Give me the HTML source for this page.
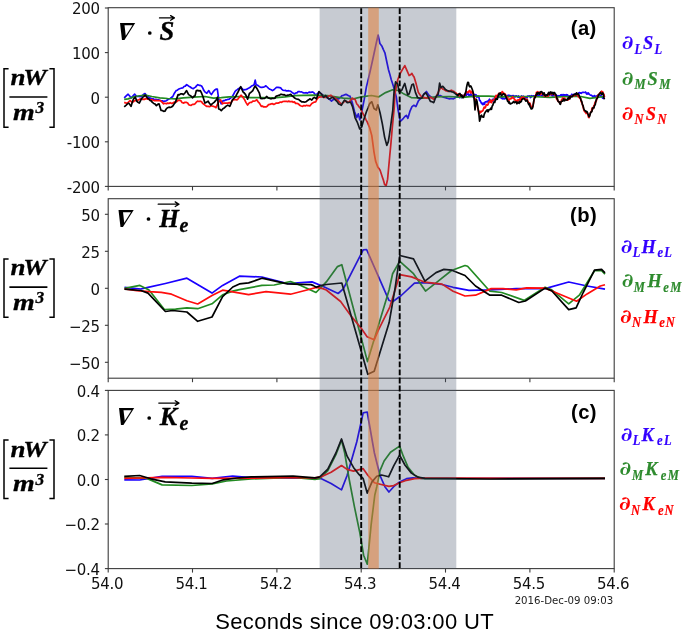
<!DOCTYPE html>
<html lang="en"><head><meta charset="utf-8"><title>Energy flux divergence</title>
<style>
html,body{margin:0;padding:0;background:#fff;}
body{width:685px;height:632px;overflow:hidden;}
svg{display:block;will-change:transform;transform:translateZ(0);}
.tk{font-family:"DejaVu Sans","Liberation Sans",sans-serif;font-size:15px;letter-spacing:-0.3px;fill:#111;}
.sm{font-family:"DejaVu Sans","Liberation Sans",sans-serif;font-size:10.2px;fill:#222;}
.xl{font-family:"Liberation Sans",sans-serif;font-size:22px;letter-spacing:0.34px;fill:#000;}
.pl{font-family:"Liberation Sans",sans-serif;font-weight:bold;font-size:20.2px;letter-spacing:0.4px;fill:#000;}
.mi{font-family:"Liberation Serif","DejaVu Serif",serif;font-weight:bold;font-style:italic;}
.nb2{font-family:"DejaVu Serif","DejaVu Sans",serif;font-weight:bold;}
.pd{font-family:"DejaVu Serif","Liberation Serif",serif;font-weight:bold;font-style:italic;}
.ln{fill:none;stroke-width:1.7;stroke-linejoin:round;stroke-linecap:butt;}
</style></head><body>
<svg width="685" height="632" viewBox="0 0 685 632">
<rect width="685" height="632" fill="#fff"/>

<g id="panel-a">
<clipPath id="cpa"><rect x="108.2" y="7.7" width="506.00000000000006" height="178.70000000000002"/></clipPath>
<g clip-path="url(#cpa)">
<polyline class="ln" stroke="#1a00ff" points="124.2,97.8 126.2,95.9 128.1,94.2 130.1,96.5 131.4,97.8 133.1,95.8 134.7,94.2 136.7,96.5 137.8,96.5 139.0,96.4 140.2,96.6 141.3,96.5 142.5,95.6 143.8,94.2 145.0,93.6 147.2,96.5 148.3,96.7 149.5,98.0 150.7,98.1 151.8,98.9 153.1,98.8 154.4,99.7 155.8,99.4 157.1,99.9 158.4,99.8 159.7,100.2 161.0,100.8 162.3,100.8 163.6,101.5 164.9,101.1 166.3,100.7 167.6,99.8 168.9,99.0 170.2,98.4 171.5,97.5 172.8,96.5 174.4,93.2 176.1,90.6 177.2,90.2 178.3,89.4 179.4,88.7 181.1,88.2 182.7,88.0 184.0,86.5 185.3,86.1 186.6,84.7 187.7,85.3 188.8,86.2 189.9,86.7 191.6,88.0 193.2,88.7 194.3,87.9 195.5,87.1 196.7,85.6 197.8,84.7 199.1,85.3 200.4,85.4 201.6,86.0 202.7,87.9 203.8,90.3 204.9,91.9 206.8,93.2 208.8,90.6 210.1,92.9 211.4,94.6 213.1,91.9 214.7,90.0 216.0,89.2 217.3,89.0 218.7,99.2 220.0,101.2 221.3,103.8 223.2,100.5 224.4,100.7 225.6,99.9 226.8,99.8 228.0,99.3 229.2,99.2 230.8,97.9 232.4,96.5 233.8,93.8 235.1,91.3 236.2,90.3 237.3,89.6 238.4,88.7 239.7,88.1 241.0,87.3 242.3,89.0 243.6,90.0 244.9,89.7 246.3,89.5 247.6,88.7 248.9,88.1 250.2,87.3 251.5,86.0 252.8,85.5 254.1,84.7 255.2,80.1 256.1,84.7 257.8,85.4 259.4,86.7 260.7,87.3 262.0,87.3 263.3,87.2 264.6,86.7 265.9,85.8 267.2,87.0 268.6,88.3 269.9,89.3 271.2,89.7 272.5,90.6 273.8,89.8 275.2,88.5 276.5,87.3 278.1,87.3 279.6,87.6 280.8,87.9 281.9,89.4 283.1,90.2 284.2,90.5 285.3,90.3 286.4,91.0 287.5,90.8 288.6,90.7 289.7,91.0 290.8,91.3 292.1,92.4 293.4,93.4 294.7,93.9 295.9,92.9 297.0,92.8 298.1,91.7 299.3,91.5 300.5,92.0 301.7,91.9 302.8,92.6 304.0,93.0 305.2,92.8 306.3,92.7 307.5,93.1 308.6,92.4 309.7,92.1 310.8,92.5 312.0,91.9 313.1,92.2 314.4,93.4 315.7,95.2 316.8,94.1 317.9,93.3 319.0,92.2 320.1,92.9 321.2,93.7 322.3,94.8 323.6,95.7 324.9,96.0 326.2,96.8 327.5,98.1 328.9,99.1 330.2,99.9 331.5,101.0 332.8,100.0 334.1,99.1 335.4,98.1 336.5,98.4 337.6,98.6 338.7,98.8 339.8,97.8 340.9,96.8 342.0,95.7 343.3,95.5 344.6,94.8 345.9,94.4 347.2,94.9 348.6,95.7 349.9,96.1 351.2,99.6 352.5,103.4 354.5,111.5 355.6,114.4 356.8,117.5 358.3,113.8 359.8,119.8 361.3,114.5 362.1,110.0 364.2,99.7 366.4,86.9 368.5,78.4 369.9,72.3 371.4,65.6 372.8,59.2 374.2,52.8 376.3,42.8 378.1,35.0 379.9,43.5 382.0,46.3 383.4,49.6 384.9,52.8 387.0,62.7 388.5,69.8 389.9,74.5 391.3,79.8 392.7,84.0 394.1,88.4 396.3,96.9 398.1,110.0 400.3,121.3 401.9,119.8 403.4,118.3 404.9,116.5 406.4,115.3 407.9,118.3 409.0,114.6 410.1,110.8 412.0,106.6 413.9,105.3 415.9,106.6 417.2,103.7 418.5,100.7 419.9,99.1 421.2,98.1 422.3,96.6 423.4,95.0 424.5,93.5 426.4,91.5 427.8,93.6 429.1,95.5 430.7,96.7 432.3,98.1 433.6,97.8 435.0,97.4 436.3,96.8 437.6,96.1 438.9,95.7 440.2,95.5 441.5,96.2 442.9,97.0 444.2,97.4 445.5,97.6 446.8,98.1 448.1,98.5 449.4,98.8 450.7,98.7 452.1,98.7 453.4,98.8 454.7,98.0 456.0,97.0 457.3,96.8 457.9,97.1 458.5,96.1 459.1,96.4 459.7,97.7 460.2,95.2 460.8,97.0 461.4,97.6 462.0,96.2 462.6,96.8 463.2,95.6 463.8,97.3 464.3,95.1 464.9,94.7 465.5,95.2 466.1,95.9 466.6,93.6 467.2,94.1 467.8,94.4 468.4,94.0 469.0,95.8 469.6,94.6 470.2,96.1 470.7,93.9 471.3,94.6 471.9,95.8 472.5,96.7 473.1,95.5 473.7,95.4 474.2,94.7 474.8,94.4 475.4,95.9 476.0,94.8 476.6,97.0 477.1,97.2 477.7,96.1 478.4,96.2 479.0,97.6 479.6,100.6 480.3,100.7 480.9,102.2 481.6,103.7 482.2,103.2 482.9,104.7 483.4,103.0 484.0,103.1 484.5,104.3 485.1,102.1 485.6,101.9 486.2,102.0 486.8,101.5 487.3,101.4 487.9,101.1 488.4,102.7 489.0,99.9 489.5,99.2 490.1,100.7 490.7,101.9 491.2,101.4 491.8,101.5 492.4,99.4 493.0,100.9 493.5,100.5 494.1,98.8 494.7,97.7 495.3,99.4 495.9,99.5 496.5,98.8 497.1,98.2 497.6,97.2 498.2,97.3 498.8,96.8 499.4,96.1 500.0,97.4 500.6,97.7 501.2,97.2 501.8,98.4 502.3,97.0 502.9,98.9 503.5,98.6 504.1,98.3 504.7,98.8 505.2,98.4 505.8,98.1 506.4,97.1 507.0,95.6 507.6,96.8 508.1,95.3 508.7,95.6 509.3,95.3 509.9,96.1 510.5,95.8 511.0,95.7 511.6,96.8 512.2,96.2 512.8,95.7 513.4,95.6 514.0,96.9 514.6,96.2 515.1,96.9 515.7,96.1 516.3,95.8 516.9,96.5 517.5,96.6 518.0,97.2 518.6,96.0 519.2,97.3 519.7,97.6 520.3,97.4 520.9,97.5 521.5,96.0 522.0,97.3 522.6,97.8 523.2,96.2 523.7,96.7 524.3,96.8 524.9,97.3 525.4,97.2 526.0,97.4 526.5,97.3 527.1,97.8 527.6,96.1 528.2,96.1 528.8,96.2 529.3,96.1 529.9,95.9 530.4,97.6 531.0,97.3 531.5,95.7 532.0,96.4 532.6,96.0 533.1,95.9 533.7,95.8 534.2,96.3 534.8,96.1 535.4,95.6 535.9,95.2 536.5,95.3 537.0,95.6 537.6,94.8 538.1,95.6 538.7,95.9 539.2,95.2 539.8,94.6 540.3,94.7 540.9,95.1 541.4,95.5 542.0,95.8 542.5,95.0 543.1,95.8 543.6,95.4 544.2,95.0 544.7,94.8 545.3,95.0 545.8,95.4 546.4,94.8 546.9,95.3 547.5,94.8 548.0,94.3 548.6,94.8 549.1,95.1 549.7,94.7 550.3,93.9 550.8,94.7 551.4,94.7 551.9,95.7 552.5,95.9 553.0,94.8 553.6,95.9 554.1,95.8 554.7,94.8 555.2,95.2 555.8,94.6 556.3,96.0 556.9,95.8 557.4,96.3 558.0,95.6 558.6,96.2 559.1,95.9 559.7,96.1 560.2,95.7 560.8,94.8 561.3,95.8 561.9,94.6 562.4,94.9 563.0,96.1 563.6,94.7 564.1,94.8 564.7,94.8 565.2,96.4 565.8,95.0 566.3,94.6 566.9,96.3 567.4,94.8 568.0,95.6 568.6,96.2 569.1,95.8 569.7,96.1 570.2,96.2 570.8,95.4 571.4,95.8 571.9,94.2 572.5,95.6 573.1,95.0 573.6,95.3 574.2,94.1 574.7,95.3 575.3,94.7 575.8,95.4 576.4,93.4 576.9,93.8 577.5,94.1 578.0,94.4 578.6,93.0 579.1,92.7 579.7,92.7 580.2,93.2 580.8,92.8 581.4,93.3 582.0,92.5 582.6,92.4 583.2,92.4 583.8,92.3 584.4,92.5 585.0,92.5 585.5,92.0 586.1,93.0 586.7,94.1 587.3,93.1 587.9,94.0 588.4,93.0 589.0,93.8 589.6,94.5 590.1,95.0 590.7,95.2 591.2,95.2 591.8,95.5 592.4,96.1 592.9,97.0 593.5,96.5 594.1,95.7 594.7,95.5 595.2,96.8 595.8,97.0 596.4,96.1 597.0,95.9 597.6,96.4 598.2,95.2 598.7,95.3 599.3,95.1 599.9,95.6 600.5,96.1 601.0,95.9 601.6,96.1 602.2,97.3 602.8,98.2 603.4,97.2 603.9,98.4 604.5,98.3"/>
<polyline class="ln" stroke="#228b22" points="124.2,99.4 128.1,98.9 134.7,96.5 145.2,95.0 151.8,96.5 159.7,97.8 167.6,98.5 175.4,98.9 183.3,97.8 193.8,97.2 205.0,96.5 213.4,98.1 221.3,97.6 229.2,96.8 239.7,96.5 250.2,97.6 260.7,97.6 273.8,97.8 285.0,96.8 294.7,95.7 313.1,95.2 327.6,95.7 343.3,98.1 353.8,98.8 361.4,96.9 371.4,95.5 378.5,96.9 385.6,92.6 392.7,89.8 398.4,90.5 404.1,94.1 411.2,97.6 423.1,98.1 436.3,96.8 449.4,96.5 462.6,97.4 475.7,96.1 488.8,96.1 500.0,96.8 513.2,96.5 531.5,96.5 549.7,97.4 568.0,96.5 580.8,96.5 589.9,98.3 597.2,97.4 604.5,96.5"/>
<polyline class="ln" stroke="#ff0d0d" points="124.2,102.4 125.5,102.9 126.8,103.1 128.4,102.1 130.1,100.5 132.1,102.4 133.4,101.8 134.7,100.5 135.8,100.7 137.0,100.2 138.2,100.1 139.3,99.4 140.9,98.9 142.6,99.4 143.7,99.1 144.8,99.3 145.9,98.5 147.6,99.1 149.2,99.4 150.5,100.2 151.8,99.6 153.1,100.3 154.4,100.7 155.7,100.4 157.1,100.6 158.4,100.6 159.7,100.5 161.0,101.1 162.3,102.4 163.6,103.8 164.9,103.3 166.3,103.8 167.6,103.1 168.9,103.4 170.2,102.7 171.5,103.4 172.8,103.1 174.1,102.2 175.5,102.2 176.8,101.5 178.1,100.4 179.4,100.2 180.7,100.6 182.0,102.5 183.3,103.1 184.9,102.4 186.6,102.4 187.7,103.0 188.8,104.7 189.9,105.1 191.2,105.3 192.5,104.4 193.8,104.4 195.1,103.8 196.3,102.2 197.6,101.1 198.9,101.5 200.3,101.2 201.6,101.8 202.7,103.4 203.8,104.2 204.9,105.1 206.5,106.3 208.1,106.4 209.4,106.7 210.8,105.9 212.1,106.0 213.4,106.4 214.7,106.8 216.0,107.7 218.0,103.1 219.3,101.1 220.6,99.8 222.6,103.8 223.9,103.1 225.2,103.1 226.5,103.1 227.8,103.2 229.2,102.6 230.5,103.1 231.8,101.6 233.1,99.8 234.4,99.6 235.7,99.6 237.0,99.8 238.3,98.6 239.7,96.7 241.0,95.2 242.1,96.3 243.2,97.8 244.3,99.2 245.9,102.4 247.6,105.1 248.9,103.3 250.2,102.4 251.5,102.5 252.8,101.0 254.1,101.1 255.4,100.7 256.8,99.8 258.1,101.8 259.4,103.1 261.3,106.4 262.4,106.0 263.6,107.0 264.8,106.7 265.9,107.0 267.2,106.2 268.6,104.7 269.9,104.4 271.2,103.8 272.5,103.7 273.8,104.5 275.1,103.8 276.4,103.0 277.7,103.2 279.0,102.9 280.3,102.0 281.6,102.3 282.9,101.5 284.2,101.4 285.5,101.4 286.6,101.4 287.7,101.7 288.8,101.0 289.9,101.7 291.0,101.7 292.1,101.4 293.2,102.3 294.4,101.9 295.6,103.4 296.7,103.4 297.9,103.6 299.0,104.5 300.1,105.5 301.3,106.0 302.6,106.3 303.9,105.5 305.2,105.9 306.5,105.3 307.6,105.6 308.7,105.6 309.8,106.0 311.8,103.4 313.1,102.7 314.4,102.1 315.7,102.0 317.0,99.2 318.4,97.4 320.0,96.9 321.6,96.8 323.0,97.2 324.3,97.4 325.4,97.5 326.5,96.8 327.6,96.8 329.2,95.7 330.8,95.2 331.9,96.3 333.0,96.7 334.1,97.4 335.4,98.4 336.8,99.4 338.1,100.7 339.7,102.4 341.3,104.0 342.4,103.4 343.5,102.2 344.6,101.4 345.8,101.5 346.9,101.4 348.1,102.1 349.2,102.0 350.3,100.4 351.4,99.4 352.5,98.1 353.8,99.0 355.1,99.4 356.8,104.0 358.0,105.2 359.3,107.2 360.5,108.5 361.8,111.3 363.0,113.6 364.3,116.0 365.8,119.3 367.3,122.1 369.5,127.3 370.6,131.2 371.8,135.6 374.0,152.1 375.6,161.1 377.8,167.1 379.0,168.6 380.1,170.2 382.3,176.9 383.5,180.4 384.6,184.4 386.1,185.9 387.6,179.2 389.8,155.1 391.0,142.6 392.1,129.6 394.3,107.0 394.9,94.1 396.3,86.8 397.7,79.8 399.1,76.2 400.6,72.7 402.7,69.1 404.8,65.6 407.0,70.6 409.1,75.5 410.5,74.8 411.9,73.4 413.0,75.4 414.1,77.0 416.2,84.1 418.4,92.6 420.5,95.5 421.8,96.8 423.1,97.4 424.4,97.6 425.8,97.9 427.1,98.1 428.4,98.0 429.7,97.6 431.0,97.4 432.4,98.3 433.7,99.4 435.0,98.0 436.3,96.8 437.6,93.6 438.9,90.9 440.9,87.6 442.0,88.2 443.1,89.3 444.2,89.6 445.5,90.6 446.8,91.0 448.1,91.5 449.8,90.8 451.4,90.2 452.5,90.8 453.6,91.2 454.7,92.2 455.8,92.7 456.9,94.6 458.0,94.2 458.6,95.7 459.3,93.9 459.9,95.6 460.6,95.7 461.2,94.8 461.9,95.9 462.5,96.1 463.2,96.8 463.9,96.1 464.5,94.6 465.2,94.9 465.9,92.3 466.5,92.2 467.1,91.8 467.8,92.6 468.5,92.0 469.1,90.9 469.8,90.3 470.5,92.9 471.1,91.9 471.8,91.5 472.4,93.5 473.1,92.9 473.8,96.6 474.4,98.1 475.0,98.5 475.7,101.4 476.4,101.9 477.0,103.4 477.7,107.7 478.3,110.1 479.0,112.6 479.6,113.4 480.3,111.3 481.0,112.1 481.6,111.2 482.3,111.2 482.9,110.7 483.6,108.6 484.2,107.1 484.9,108.0 485.6,107.1 486.2,104.7 486.9,104.7 487.5,105.2 488.1,104.4 488.8,102.0 489.4,101.9 489.9,101.7 490.5,100.1 491.0,102.4 491.6,102.6 492.1,100.7 492.8,100.0 493.4,100.1 494.1,99.6 494.7,98.9 495.4,97.4 496.0,95.4 496.7,97.0 497.3,95.5 498.0,95.1 498.6,93.7 499.2,93.3 499.8,93.9 500.3,94.2 500.9,93.7 501.5,93.8 502.1,91.6 502.6,91.9 503.2,92.8 503.9,93.3 504.5,94.6 505.2,94.0 505.9,95.5 506.5,97.1 507.0,98.1 507.6,97.4 508.1,99.7 508.7,100.9 509.3,99.7 509.8,98.8 510.4,98.7 511.0,98.9 511.5,98.1 512.1,97.8 512.6,97.0 513.2,98.0 513.8,98.5 514.4,98.9 515.0,100.2 515.7,100.8 516.3,100.4 516.9,101.8 517.4,102.6 518.0,99.6 518.5,100.4 519.1,99.7 519.6,99.7 520.2,98.5 520.8,100.3 521.3,98.5 521.9,97.2 522.4,98.2 523.0,98.7 523.5,97.2 524.1,98.7 524.6,98.2 525.2,99.0 525.8,100.2 526.3,99.9 526.9,99.1 527.5,99.9 528.1,102.1 528.8,102.7 529.4,102.9 530.0,103.3 530.6,105.4 531.2,106.4 531.8,106.9 532.4,107.4 533.0,105.7 533.6,102.7 534.2,98.2 534.8,97.4 535.3,95.6 535.9,96.1 536.4,92.4 537.0,92.8 537.6,91.7 538.2,93.2 538.8,93.5 539.4,92.2 540.0,93.7 540.6,94.6 541.2,93.2 541.8,93.5 542.4,93.8 543.0,93.2 543.5,93.6 544.1,95.9 544.7,94.3 545.3,96.3 545.9,96.4 546.4,95.7 547.0,95.6 547.6,94.4 548.2,96.1 548.9,94.2 549.5,93.5 550.1,92.8 550.7,92.9 551.3,94.6 551.8,93.4 552.4,93.0 553.0,93.8 553.5,93.0 554.1,94.7 554.6,94.4 555.2,94.8 555.8,95.4 556.3,98.2 556.9,99.6 557.4,98.4 558.0,101.1 558.6,101.8 559.2,101.6 559.8,102.8 560.4,103.3 561.0,102.1 561.6,99.7 562.2,99.0 562.8,97.9 563.4,98.2 564.0,100.0 564.6,98.2 565.2,99.5 565.9,99.4 566.5,100.2 567.1,100.1 567.7,100.0 568.2,99.9 568.8,97.6 569.4,99.1 569.9,97.3 570.5,97.5 571.0,96.5 571.6,96.5 572.2,95.6 572.8,96.0 573.5,95.5 574.1,94.9 574.7,95.8 575.3,94.8 575.9,95.2 576.5,93.7 577.1,94.5 577.7,95.3 578.3,96.8 578.9,95.7 579.5,98.1 580.0,98.4 580.6,98.1 581.1,101.7 581.7,102.1 582.4,104.2 583.0,106.9 583.7,109.5 584.4,111.2 585.0,112.0 585.5,111.9 586.1,113.5 586.6,112.3 587.2,113.0 587.8,114.2 588.4,117.1 589.0,117.6 589.6,114.8 590.2,113.3 590.8,112.0 591.4,111.8 592.0,108.2 592.6,109.3 593.3,107.7 593.9,105.6 594.5,104.6 595.2,102.1 595.9,101.8 596.5,100.4 597.2,97.3 597.9,95.1 598.5,95.0 599.2,94.1 599.9,92.8 600.5,92.6 601.0,91.9 601.6,91.2 602.1,92.3 602.7,91.8 603.3,94.5 603.9,94.1 604.5,97.2"/>
<polyline class="ln" stroke="#000" points="124.2,106.8 126.2,105.1 127.5,103.9 128.8,103.1 131.0,106.4 132.2,102.4 133.4,99.2 135.4,97.2 136.7,101.1 138.0,102.3 139.3,103.1 141.3,99.2 142.5,97.4 143.8,96.6 145.0,95.2 146.4,96.7 147.8,98.5 149.0,99.0 150.1,100.5 151.2,100.9 152.4,102.4 153.7,103.4 155.1,104.1 156.4,105.7 157.7,104.3 159.0,103.8 161.0,110.3 162.3,110.5 163.6,111.3 164.9,111.2 166.2,109.0 167.6,107.7 168.9,107.2 170.2,107.4 171.5,107.0 172.8,106.0 174.1,104.0 175.4,102.4 176.8,98.4 178.1,94.6 179.4,94.8 180.7,93.9 182.0,93.8 183.3,94.6 184.9,93.0 186.6,90.6 188.6,94.6 189.9,95.4 191.2,96.3 192.5,97.8 193.8,96.4 195.0,95.9 196.3,90.6 197.6,90.4 199.0,90.9 200.3,90.6 201.6,93.2 202.9,96.5 204.9,103.1 206.5,102.2 208.1,101.1 209.4,103.3 210.8,105.1 212.4,103.6 214.1,102.4 215.4,100.9 216.7,99.2 217.5,97.2 218.7,109.0 220.0,109.4 221.3,110.7 222.9,108.7 224.6,107.7 226.2,106.1 227.8,105.1 229.8,106.4 231.1,103.3 232.4,99.8 234.1,98.1 235.7,96.5 236.8,94.1 237.9,92.3 239.0,90.0 240.7,86.7 241.8,89.2 243.0,91.9 244.3,93.0 245.6,94.6 247.6,99.2 249.5,93.2 250.6,92.7 251.7,91.7 252.8,90.6 254.0,88.0 255.2,86.0 257.4,89.3 259.4,93.2 260.7,98.5 262.0,98.6 263.3,98.5 264.6,98.5 266.6,96.5 268.2,97.9 269.9,98.5 271.2,98.8 272.5,98.3 273.8,98.5 274.9,98.2 276.0,96.3 277.1,95.9 278.2,95.4 279.4,95.4 280.5,94.4 281.6,94.4 282.9,94.8 284.2,94.6 285.5,95.5 286.8,95.4 288.1,95.2 289.5,94.8 290.8,94.4 292.1,96.0 293.4,96.7 294.7,98.1 296.0,98.7 297.3,99.1 298.6,99.4 300.2,100.8 301.9,102.0 303.0,101.8 304.2,102.1 305.4,102.0 306.5,101.4 307.6,100.5 308.7,99.8 309.8,98.8 311.8,100.1 313.1,98.3 314.4,97.4 316.4,98.8 317.7,95.4 319.0,91.5 320.3,93.0 321.6,94.2 323.6,97.4 325.6,95.5 327.2,97.5 328.9,98.8 330.2,98.6 331.5,97.7 332.8,97.4 333.9,98.4 335.0,99.7 336.1,100.7 337.4,102.0 338.7,104.0 340.0,104.6 341.3,105.3 342.4,103.3 343.5,101.6 344.6,100.1 346.0,101.1 347.3,102.7 348.9,102.5 350.5,102.0 352.5,106.6 353.8,111.9 355.1,117.8 357.1,121.8 358.4,125.2 359.7,129.0 361.7,127.0 363.5,120.6 365.0,116.0 366.5,111.5 368.0,108.0 369.5,104.0 370.6,102.6 371.8,101.8 374.0,108.5 375.1,109.2 376.3,110.0 377.8,104.8 379.0,108.9 380.1,113.0 382.3,123.6 383.5,130.6 384.6,137.1 386.8,145.4 388.3,141.6 389.5,134.3 390.6,126.6 392.8,110.0 394.1,91.2 395.6,81.9 397.7,84.1 399.1,91.9 400.6,91.1 402.0,89.8 403.4,86.4 404.8,83.4 406.2,89.0 407.7,94.8 409.1,94.1 410.5,89.4 411.9,84.8 413.4,84.1 415.5,92.6 417.6,97.6 419.0,98.0 420.4,98.3 421.8,98.1 423.8,94.2 425.8,92.8 427.1,94.9 428.4,97.4 430.4,101.4 431.5,101.6 432.6,102.1 433.7,102.7 435.0,99.2 436.3,96.1 438.2,94.2 439.6,83.0 440.9,87.6 442.8,86.3 444.1,87.9 445.5,89.6 446.8,90.3 448.1,90.7 449.4,91.5 450.7,91.4 452.1,91.9 453.4,92.2 455.0,93.4 456.6,94.8 457.3,94.7 457.9,95.6 458.6,94.6 459.2,93.8 459.9,93.5 460.6,94.8 461.2,96.0 461.9,95.1 462.6,97.4 463.2,97.6 463.9,96.3 464.6,95.6 465.2,93.5 465.9,91.6 466.5,87.6 467.1,84.8 467.8,82.3 468.5,82.6 469.1,85.8 469.8,86.9 470.5,86.0 471.1,86.5 471.8,88.2 472.4,89.8 473.1,92.1 473.7,95.5 474.4,102.2 475.0,109.9 475.7,103.3 476.4,99.4 477.0,101.2 477.7,106.0 478.3,110.0 479.0,114.9 479.6,121.1 480.3,118.7 480.9,115.7 481.6,115.2 482.3,117.0 482.9,116.9 483.6,117.2 484.2,114.4 484.9,112.9 485.5,111.9 486.1,111.1 486.6,110.8 487.1,109.8 487.7,111.6 488.2,111.7 488.8,109.9 489.5,109.6 490.1,109.6 490.8,108.2 491.5,109.3 492.1,106.3 492.8,105.2 493.5,103.1 494.1,102.0 494.8,102.3 495.4,99.7 496.1,98.6 496.7,99.4 497.3,99.2 498.0,96.4 498.6,94.7 499.2,93.5 499.8,94.6 500.3,92.9 500.9,94.3 501.5,95.6 502.1,95.1 502.6,94.5 503.2,93.8 503.9,93.8 504.5,94.8 505.2,94.8 505.9,96.5 506.5,98.6 507.0,99.2 507.6,101.2 508.1,101.1 508.7,102.9 509.3,102.0 509.8,103.6 510.4,104.0 511.0,103.5 511.5,103.3 512.1,103.2 512.6,102.8 513.2,102.0 513.8,101.5 514.4,102.7 515.0,102.5 515.7,101.8 516.3,102.1 516.9,103.8 517.4,102.7 518.0,102.2 518.5,103.0 519.1,103.3 519.6,101.3 520.2,102.4 520.8,102.0 521.3,101.5 521.9,99.3 522.4,99.2 523.0,98.5 523.5,98.6 524.1,98.6 524.6,98.8 525.2,100.1 525.8,101.1 526.3,101.0 526.9,100.1 527.5,101.3 528.1,103.0 528.8,104.6 529.4,103.7 530.0,106.7 530.6,107.4 531.2,109.0 531.8,108.9 532.4,108.4 533.0,106.1 533.6,102.2 534.2,99.2 534.8,97.0 535.3,97.5 535.9,94.9 536.4,95.0 537.0,92.8 537.6,94.2 538.2,92.5 538.8,92.5 539.4,94.1 540.0,93.5 540.6,91.8 541.2,91.7 541.8,91.8 542.4,92.8 543.0,94.4 543.5,94.4 544.1,92.8 544.7,95.2 545.3,96.0 545.9,95.4 546.4,94.8 547.0,95.6 547.6,95.1 548.2,93.3 548.9,92.3 549.5,94.5 550.1,93.0 550.7,91.9 551.3,92.2 551.8,93.7 552.4,92.4 553.0,94.0 553.5,94.1 554.1,92.5 554.6,92.8 555.2,93.8 555.8,94.6 556.3,95.9 556.9,98.4 557.4,98.9 558.0,101.1 558.6,101.8 559.2,101.8 559.8,103.8 560.4,104.3 561.0,101.8 561.6,101.4 562.2,101.0 562.8,101.2 563.4,99.2 564.0,99.1 564.6,100.8 565.2,99.7 565.9,99.9 566.5,100.0 567.1,100.1 567.7,98.2 568.2,99.0 568.8,97.8 569.4,96.8 569.9,98.7 570.5,96.4 571.0,96.9 571.6,96.5 572.2,96.7 572.8,95.8 573.5,94.6 574.1,94.8 574.7,94.4 575.3,93.8 575.9,94.8 576.5,92.9 577.1,94.4 577.7,93.6 578.3,93.9 578.9,94.7 579.5,96.8 580.0,97.3 580.6,98.7 581.1,100.6 581.7,101.1 582.4,104.6 583.0,105.5 583.7,108.3 584.4,110.2 585.0,110.6 585.5,111.0 586.1,111.9 586.6,111.5 587.2,112.0 587.8,113.6 588.4,115.0 589.0,116.6 589.6,116.4 590.2,114.1 590.8,112.0 591.4,112.1 592.0,111.2 592.6,108.1 593.3,107.9 593.9,108.0 594.5,105.6 595.2,104.8 595.9,100.9 596.5,99.0 597.2,98.3 597.9,97.0 598.5,94.8 599.2,94.1 599.9,93.8 600.5,92.3 601.0,93.9 601.6,94.1 602.1,94.2 602.7,92.8 603.3,93.9 603.9,97.7 604.5,99.2"/>
</g>
<rect x="108.2" y="7.7" width="506.0" height="178.7" fill="none" stroke="#3c3c3c" stroke-width="1.1"/>
<line x1="104.9" x2="108.2" y1="8.0" y2="8.0" stroke="#3c3c3c" stroke-width="1.1"/>
<text class="tk" x="99.7" y="14.3" text-anchor="end">200</text>
<line x1="104.9" x2="108.2" y1="52.6" y2="52.6" stroke="#3c3c3c" stroke-width="1.1"/>
<text class="tk" x="99.7" y="58.9" text-anchor="end">100</text>
<line x1="104.9" x2="108.2" y1="97.2" y2="97.2" stroke="#3c3c3c" stroke-width="1.1"/>
<text class="tk" x="99.7" y="103.5" text-anchor="end">0</text>
<line x1="104.9" x2="108.2" y1="141.8" y2="141.8" stroke="#3c3c3c" stroke-width="1.1"/>
<text class="tk" x="99.7" y="148.1" text-anchor="end">-100</text>
<line x1="104.9" x2="108.2" y1="186.4" y2="186.4" stroke="#3c3c3c" stroke-width="1.1"/>
<text class="tk" x="99.7" y="192.7" text-anchor="end">-200</text>
<line x1="108.2" x2="108.2" y1="186.4" y2="190.4" stroke="#3c3c3c" stroke-width="1.1"/>
<line x1="192.5" x2="192.5" y1="186.4" y2="190.4" stroke="#3c3c3c" stroke-width="1.1"/>
<line x1="276.9" x2="276.9" y1="186.4" y2="190.4" stroke="#3c3c3c" stroke-width="1.1"/>
<line x1="361.2" x2="361.2" y1="186.4" y2="190.4" stroke="#3c3c3c" stroke-width="1.1"/>
<line x1="445.5" x2="445.5" y1="186.4" y2="190.4" stroke="#3c3c3c" stroke-width="1.1"/>
<line x1="529.9" x2="529.9" y1="186.4" y2="190.4" stroke="#3c3c3c" stroke-width="1.1"/>
<line x1="614.2" x2="614.2" y1="186.4" y2="190.4" stroke="#3c3c3c" stroke-width="1.1"/>
</g>
<g id="panel-b">
<clipPath id="cpb"><rect x="108.2" y="198.7" width="506.00000000000006" height="179.5"/></clipPath>
<g clip-path="url(#cpb)">
<polyline class="ln" stroke="#1a00ff" points="124.5,287.4 140.9,289.0 148.0,287.4 165.4,283.5 186.9,278.2 212.0,293.1 222.6,285.4 239.4,276.2 261.9,277.0 287.4,283.5 312.0,281.9 322.2,286.0 338.1,293.5 343.3,288.8 363.2,249.9 366.6,249.5 388.8,300.2 392.6,301.7 401.2,295.5 414.5,283.1 424.9,282.6 442.0,284.5 453.1,287.3 468.9,290.4 489.9,289.9 516.2,288.6 545.1,288.6 568.7,282.0 587.1,286.0 605.0,289.1"/>
<polyline class="ln" stroke="#228b22" points="124.5,288.4 139.9,285.4 149.0,290.0 164.4,309.5 175.6,309.1 186.9,307.9 197.7,308.7 212.0,303.8 222.6,294.8 232.8,291.1 239.4,289.7 261.9,285.4 274.2,285.0 290.5,281.5 300.7,285.4 316.0,292.5 326.3,281.9 337.5,266.6 341.8,264.7 344.2,273.7 348.5,290.0 367.5,361.6 389.1,290.0 392.6,273.7 399.8,261.3 413.5,273.7 425.5,291.1 438.2,281.2 451.5,270.5 465.0,265.5 467.6,266.3 489.9,291.2 501.7,292.5 524.1,300.4 545.1,287.3 551.7,289.9 568.7,303.8 579.3,295.2 594.5,270.7 601.6,270.7 605.0,274.2"/>
<polyline class="ln" stroke="#ff0d0d" points="124.5,289.0 136.8,290.7 149.0,291.7 161.3,292.3 171.5,294.2 186.9,300.7 197.7,304.0 212.0,295.6 222.6,290.2 248.6,294.6 266.0,291.7 290.5,294.2 306.0,290.2 316.5,287.4 322.8,288.6 326.3,290.0 340.6,301.5 350.7,315.6 361.4,328.5 367.1,336.7 374.2,339.8 378.5,329.9 389.8,307.1 399.8,274.6 411.6,276.9 424.9,282.2 442.0,284.1 453.1,291.2 465.0,296.0 475.5,295.2 491.2,288.6 503.1,288.6 516.2,289.9 526.7,287.8 545.1,288.1 555.6,292.5 576.6,301.2 587.1,293.9 600.3,286.0 605.0,284.7"/>
<polyline class="ln" stroke="#000" points="124.5,289.1 140.9,290.5 148.0,293.1 165.4,311.5 172.6,310.5 186.9,312.0 197.7,321.3 212.0,317.0 222.6,296.6 232.8,287.0 239.4,283.9 248.6,282.9 261.9,278.2 287.4,283.9 301.7,284.3 311.0,284.6 313.5,285.6 316.2,287.3 320.6,285.6 326.3,284.5 341.8,283.0 367.8,374.3 374.2,371.2 389.1,322.8 394.8,290.0 399.8,255.5 413.5,258.8 424.9,281.2 436.0,272.6 443.9,269.4 451.8,270.2 465.0,275.5 475.5,286.0 489.9,295.2 501.7,295.2 518.8,302.5 525.4,301.0 545.1,288.1 551.7,290.7 568.7,309.6 576.1,307.8 583.2,292.5 594.5,270.2 601.6,269.4 605.0,272.8"/>
</g>
<rect x="108.2" y="198.7" width="506.0" height="179.5" fill="none" stroke="#3c3c3c" stroke-width="1.1"/>
<line x1="104.9" x2="108.2" y1="214.3" y2="214.3" stroke="#3c3c3c" stroke-width="1.1"/>
<text class="tk" x="99.7" y="220.6" text-anchor="end">50</text>
<line x1="104.9" x2="108.2" y1="251.3" y2="251.3" stroke="#3c3c3c" stroke-width="1.1"/>
<text class="tk" x="99.7" y="257.6" text-anchor="end">25</text>
<line x1="104.9" x2="108.2" y1="288.3" y2="288.3" stroke="#3c3c3c" stroke-width="1.1"/>
<text class="tk" x="99.7" y="294.6" text-anchor="end">0</text>
<line x1="104.9" x2="108.2" y1="325.3" y2="325.3" stroke="#3c3c3c" stroke-width="1.1"/>
<text class="tk" x="99.7" y="331.6" text-anchor="end">−25</text>
<line x1="104.9" x2="108.2" y1="362.3" y2="362.3" stroke="#3c3c3c" stroke-width="1.1"/>
<text class="tk" x="99.7" y="368.6" text-anchor="end">−50</text>
<line x1="108.2" x2="108.2" y1="378.2" y2="382.2" stroke="#3c3c3c" stroke-width="1.1"/>
<line x1="192.5" x2="192.5" y1="378.2" y2="382.2" stroke="#3c3c3c" stroke-width="1.1"/>
<line x1="276.9" x2="276.9" y1="378.2" y2="382.2" stroke="#3c3c3c" stroke-width="1.1"/>
<line x1="361.2" x2="361.2" y1="378.2" y2="382.2" stroke="#3c3c3c" stroke-width="1.1"/>
<line x1="445.5" x2="445.5" y1="378.2" y2="382.2" stroke="#3c3c3c" stroke-width="1.1"/>
<line x1="529.9" x2="529.9" y1="378.2" y2="382.2" stroke="#3c3c3c" stroke-width="1.1"/>
<line x1="614.2" x2="614.2" y1="378.2" y2="382.2" stroke="#3c3c3c" stroke-width="1.1"/>
</g>
<g id="panel-c">
<clipPath id="cpc"><rect x="108.2" y="390.4" width="506.00000000000006" height="178.20000000000005"/></clipPath>
<g clip-path="url(#cpc)">
<polyline class="ln" stroke="#1a00ff" points="124.3,479.8 139.6,480.0 162.1,476.3 191.8,476.3 212.2,478.4 232.6,476.0 251.1,477.5 293.1,478.2 315.0,477.9 321.4,478.7 331.1,483.5 341.5,489.9 347.1,475.5 356.8,441.8 363.2,412.8 367.2,412.0 374.4,453.0 380.0,475.5 384.9,486.7 388.9,492.0 393.7,486.7 399.6,481.9 406.5,478.7 413.0,477.9 425.0,478.5 605.0,478.3"/>
<polyline class="ln" stroke="#228b22" points="124.3,477.4 146.8,478.4 162.1,484.9 191.8,485.5 212.2,483.9 226.5,481.0 251.1,478.9 293.1,477.5 314.9,479.5 319.8,478.7 327.8,470.7 335.9,454.6 341.5,440.1 344.7,453.0 349.3,480.0 354.5,507.1 359.8,532.6 363.6,555.2 367.3,564.2 371.1,525.1 374.8,495.0 376.8,486.7 380.0,470.7 384.1,461.0 390.5,452.2 399.6,446.1 403.3,456.2 408.1,467.4 414.6,475.2 421.0,478.4 425.0,478.7 605.0,478.3"/>
<polyline class="ln" stroke="#ff0d0d" points="124.3,478.4 139.6,478.0 162.1,477.4 191.8,478.0 212.2,478.4 251.1,478.2 293.1,477.5 315.0,477.9 321.4,476.8 331.1,472.3 341.5,465.5 347.1,469.4 353.5,471.1 363.2,468.7 368.0,475.5 374.4,482.7 379.2,484.0 388.9,486.4 393.7,485.6 399.6,482.7 406.5,480.3 414.6,478.7 425.0,478.2 605.0,478.3"/>
<polyline class="ln" stroke="#000" points="124.3,476.3 139.6,475.5 150.9,478.8 165.2,481.9 191.8,483.1 212.2,483.5 223.4,479.8 236.7,478.0 251.1,476.9 293.1,476.2 315.0,477.9 319.8,476.8 327.8,469.1 335.9,453.0 341.5,439.0 347.1,456.2 353.5,467.4 359.2,474.7 363.2,478.7 367.2,493.1 372.0,481.9 376.8,476.3 381.6,475.0 388.6,476.8 393.7,465.8 399.6,455.1 404.9,465.0 411.4,473.1 417.8,477.1 425.0,478.4 490.0,479.0 605.0,478.3"/>
</g>
<rect x="108.2" y="390.4" width="506.0" height="178.2" fill="none" stroke="#3c3c3c" stroke-width="1.1"/>
<line x1="104.9" x2="108.2" y1="390.4" y2="390.4" stroke="#3c3c3c" stroke-width="1.1"/>
<text class="tk" x="99.7" y="396.7" text-anchor="end">0.4</text>
<line x1="104.9" x2="108.2" y1="434.9" y2="434.9" stroke="#3c3c3c" stroke-width="1.1"/>
<text class="tk" x="99.7" y="441.2" text-anchor="end">0.2</text>
<line x1="104.9" x2="108.2" y1="479.5" y2="479.5" stroke="#3c3c3c" stroke-width="1.1"/>
<text class="tk" x="99.7" y="485.8" text-anchor="end">0.0</text>
<line x1="104.9" x2="108.2" y1="524.0" y2="524.0" stroke="#3c3c3c" stroke-width="1.1"/>
<text class="tk" x="99.7" y="530.3" text-anchor="end">−0.2</text>
<line x1="104.9" x2="108.2" y1="568.6" y2="568.6" stroke="#3c3c3c" stroke-width="1.1"/>
<text class="tk" x="99.7" y="574.9" text-anchor="end">−0.4</text>
<line x1="108.2" x2="108.2" y1="568.6" y2="572.6" stroke="#3c3c3c" stroke-width="1.1"/>
<text class="tk" x="107.2" y="588.6" text-anchor="middle">54.0</text>
<line x1="192.5" x2="192.5" y1="568.6" y2="572.6" stroke="#3c3c3c" stroke-width="1.1"/>
<text class="tk" x="191.5" y="588.6" text-anchor="middle">54.1</text>
<line x1="276.9" x2="276.9" y1="568.6" y2="572.6" stroke="#3c3c3c" stroke-width="1.1"/>
<text class="tk" x="275.9" y="588.6" text-anchor="middle">54.2</text>
<line x1="361.2" x2="361.2" y1="568.6" y2="572.6" stroke="#3c3c3c" stroke-width="1.1"/>
<text class="tk" x="360.2" y="588.6" text-anchor="middle">54.3</text>
<line x1="445.5" x2="445.5" y1="568.6" y2="572.6" stroke="#3c3c3c" stroke-width="1.1"/>
<text class="tk" x="444.5" y="588.6" text-anchor="middle">54.4</text>
<line x1="529.9" x2="529.9" y1="568.6" y2="572.6" stroke="#3c3c3c" stroke-width="1.1"/>
<text class="tk" x="528.9" y="588.6" text-anchor="middle">54.5</text>
<line x1="614.2" x2="614.2" y1="568.6" y2="572.6" stroke="#3c3c3c" stroke-width="1.1"/>
<text class="tk" x="613.2" y="588.6" text-anchor="middle">54.6</text>
</g>
<rect x="319.6" y="7.7" width="136.7" height="560.9" fill="#44546a" fill-opacity="0.30"/>
<rect x="368.2" y="7.7" width="10.6" height="560.9" fill="#e17f38" fill-opacity="0.55"/>
<line x1="361.2" x2="361.2" y1="8.2" y2="568.6" stroke="#000" stroke-width="1.9" stroke-dasharray="5.8 2.23"/>
<line x1="399.7" x2="399.7" y1="8.2" y2="568.6" stroke="#000" stroke-width="1.9" stroke-dasharray="5.8 2.23"/>
<text class="pl" x="583.8" y="34.6" text-anchor="middle">(a)</text>
<text class="pl" x="583.6" y="222.2" text-anchor="middle">(b)</text>
<text class="pl" x="584" y="419" text-anchor="middle">(c)</text>
<text class="nb2" font-size="23.2" transform="translate(131.2 40.3) skewX(-14.6) scale(-0.92 1)">∇</text>
<circle cx="149.8" cy="33.0" r="1.85" fill="#000"/>
<text class="mi" x="159.6" y="40.3" font-size="26.6" stroke="#000" stroke-width="0.35">S</text>
<path d="M159.5 17.9H174.4M170.6 15.6L174.4 17.9L170.6 20.2" fill="none" stroke="#000" stroke-width="1.3" stroke-linecap="round" stroke-linejoin="round"/>
<text class="nb2" font-size="23.2" transform="translate(129.85 226.6) skewX(-14.6) scale(-0.92 1)">∇</text>
<circle cx="148.5" cy="219.0" r="1.85" fill="#000"/>
<text class="mi" x="159.2" y="226.6" font-size="25.3" stroke="#000" stroke-width="0.35">H</text>
<text class="mi" x="179.6" y="231.6" font-size="20" stroke="#000" stroke-width="0.3">e</text>
<path d="M158.2 204.2H179.0M175.2 201.9L179.0 204.2L175.2 206.5" fill="none" stroke="#000" stroke-width="1.3" stroke-linecap="round" stroke-linejoin="round"/>
<text class="nb2" font-size="23.2" transform="translate(130.35 424.8) skewX(-14.6) scale(-0.92 1)">∇</text>
<circle cx="149.2" cy="418.0" r="1.85" fill="#000"/>
<text class="mi" x="159.7" y="424.8" font-size="26" stroke="#000" stroke-width="0.35">K</text>
<text class="mi" x="179.6" y="429.8" font-size="20" stroke="#000" stroke-width="0.3">e</text>
<path d="M158.8 403.1H179.0M175.2 400.8L179.0 403.1L175.2 405.4" fill="none" stroke="#000" stroke-width="1.3" stroke-linecap="round" stroke-linejoin="round"/>
<text class="pd" font-size="19.5" fill="#3300ff" transform="translate(621.8 49.4) scale(1.12 1)">∂</text>
<text class="mi" font-size="14.6" fill="#3300ff" stroke="#3300ff" stroke-width="0.2" transform="translate(634.4 54.0) scale(0.86 1)">L</text>
<text class="mi" x="643.0" y="49.4" font-size="18.3" fill="#3300ff" stroke="#3300ff" stroke-width="0.25">S</text>
<text class="mi" font-size="14.6" fill="#3300ff" stroke="#3300ff" stroke-width="0.2" transform="translate(654.4 54.0) scale(0.86 1)">L</text>
<text class="pd" font-size="19.5" fill="#2e8b2e" transform="translate(621.8 84.7) scale(1.12 1)">∂</text>
<text class="mi" font-size="14.6" fill="#2e8b2e" stroke="#2e8b2e" stroke-width="0.2" transform="translate(634.4 89.3) scale(0.86 1)">M</text>
<text class="mi" x="647.4" y="84.7" font-size="18.3" fill="#2e8b2e" stroke="#2e8b2e" stroke-width="0.25">S</text>
<text class="mi" font-size="14.6" fill="#2e8b2e" stroke="#2e8b2e" stroke-width="0.2" transform="translate(659.3 89.3) scale(0.86 1)">M</text>
<text class="pd" font-size="19.5" fill="#ff0000" transform="translate(621.8 119.5) scale(1.12 1)">∂</text>
<text class="mi" font-size="14.6" fill="#ff0000" stroke="#ff0000" stroke-width="0.2" transform="translate(634.4 124.1) scale(0.86 1)">N</text>
<text class="mi" x="645.7" y="119.5" font-size="18.3" fill="#ff0000" stroke="#ff0000" stroke-width="0.25">S</text>
<text class="mi" font-size="14.6" fill="#ff0000" stroke="#ff0000" stroke-width="0.2" transform="translate(657.5 124.1) scale(0.86 1)">N</text>
<text class="pd" font-size="19.5" fill="#3300ff" transform="translate(620.8 252.5) scale(1.12 1)">∂</text>
<text class="mi" font-size="14.6" fill="#3300ff" stroke="#3300ff" stroke-width="0.2" transform="translate(632.8 257.1) scale(0.86 1)">L</text>
<text class="mi" x="641.6" y="252.5" font-size="18.3" fill="#3300ff" stroke="#3300ff" stroke-width="0.25">H</text>
<text class="mi" font-size="14.6" fill="#3300ff" stroke="#3300ff" stroke-width="0.2" transform="translate(657.4 257.1) scale(0.86 1)">e</text>
<text class="mi" font-size="14.6" fill="#3300ff" stroke="#3300ff" stroke-width="0.2" transform="translate(664.3 257.1) scale(0.86 1)">L</text>
<text class="pd" font-size="19.5" fill="#2e8b2e" transform="translate(621.8 287.4) scale(1.12 1)">∂</text>
<text class="mi" font-size="14.6" fill="#2e8b2e" stroke="#2e8b2e" stroke-width="0.2" transform="translate(633.8 292.0) scale(0.86 1)">M</text>
<text class="mi" x="647.4" y="287.4" font-size="18.3" fill="#2e8b2e" stroke="#2e8b2e" stroke-width="0.25">H</text>
<text class="mi" font-size="14.6" fill="#2e8b2e" stroke="#2e8b2e" stroke-width="0.2" transform="translate(663.2 292.0) scale(0.86 1)">e</text>
<text class="mi" font-size="14.6" fill="#2e8b2e" stroke="#2e8b2e" stroke-width="0.2" transform="translate(670.3 292.0) scale(0.86 1)">M</text>
<text class="pd" font-size="19.5" fill="#ff0000" transform="translate(620.1 322.5) scale(1.12 1)">∂</text>
<text class="mi" font-size="14.6" fill="#ff0000" stroke="#ff0000" stroke-width="0.2" transform="translate(632.1 327.1) scale(0.86 1)">N</text>
<text class="mi" x="643.6" y="322.5" font-size="18.3" fill="#ff0000" stroke="#ff0000" stroke-width="0.25">H</text>
<text class="mi" font-size="14.6" fill="#ff0000" stroke="#ff0000" stroke-width="0.2" transform="translate(659.2 327.1) scale(0.86 1)">e</text>
<text class="mi" font-size="14.6" fill="#ff0000" stroke="#ff0000" stroke-width="0.2" transform="translate(665.7 327.1) scale(0.86 1)">N</text>
<text class="pd" font-size="19.5" fill="#3300ff" transform="translate(620.8 440.5) scale(1.12 1)">∂</text>
<text class="mi" font-size="14.6" fill="#3300ff" stroke="#3300ff" stroke-width="0.2" transform="translate(632.8 445.1) scale(0.86 1)">L</text>
<text class="mi" x="641.6" y="440.5" font-size="18.3" fill="#3300ff" stroke="#3300ff" stroke-width="0.25">K</text>
<text class="mi" font-size="14.6" fill="#3300ff" stroke="#3300ff" stroke-width="0.2" transform="translate(656.9 445.1) scale(0.86 1)">e</text>
<text class="mi" font-size="14.6" fill="#3300ff" stroke="#3300ff" stroke-width="0.2" transform="translate(664.0 445.1) scale(0.86 1)">L</text>
<text class="pd" font-size="19.5" fill="#2e8b2e" transform="translate(619.6 475.2) scale(1.12 1)">∂</text>
<text class="mi" font-size="14.6" fill="#2e8b2e" stroke="#2e8b2e" stroke-width="0.2" transform="translate(631.9 479.8) scale(0.86 1)">M</text>
<text class="mi" x="645.2" y="475.2" font-size="18.3" fill="#2e8b2e" stroke="#2e8b2e" stroke-width="0.25">K</text>
<text class="mi" font-size="14.6" fill="#2e8b2e" stroke="#2e8b2e" stroke-width="0.2" transform="translate(660.7 479.8) scale(0.86 1)">e</text>
<text class="mi" font-size="14.6" fill="#2e8b2e" stroke="#2e8b2e" stroke-width="0.2" transform="translate(667.8 479.8) scale(0.86 1)">M</text>
<text class="pd" font-size="19.5" fill="#ff0000" transform="translate(619.1 510.2) scale(1.12 1)">∂</text>
<text class="mi" font-size="14.6" fill="#ff0000" stroke="#ff0000" stroke-width="0.2" transform="translate(631.1 514.8) scale(0.86 1)">N</text>
<text class="mi" x="642.4" y="510.2" font-size="18.3" fill="#ff0000" stroke="#ff0000" stroke-width="0.25">K</text>
<text class="mi" font-size="14.6" fill="#ff0000" stroke="#ff0000" stroke-width="0.2" transform="translate(657.9 514.8) scale(0.86 1)">e</text>
<text class="mi" font-size="14.6" fill="#ff0000" stroke="#ff0000" stroke-width="0.2" transform="translate(664.5 514.8) scale(0.86 1)">N</text>
<g>
<path d="M8.6 68.8H4V127.2H8.6" fill="none" stroke="#000" stroke-width="1.5"/>
<path d="M49.4 68.8H54V127.2H49.4" fill="none" stroke="#000" stroke-width="1.5"/>
<line x1="9.4" x2="47.4" y1="97.0" y2="97.0" stroke="#000" stroke-width="1.6"/>
<text class="mi" font-size="23.3" stroke="#000" stroke-width="0.3" transform="translate(10.6 85.2) scale(1.16 1)">n</text>
<text class="mi" font-size="23.3" stroke="#000" stroke-width="0.3" transform="translate(23.2 85.2) scale(1.13 1)">W</text>
<text class="mi" font-size="23.3" stroke="#000" stroke-width="0.3" transform="translate(12.9 119.8) scale(1.2 1)">m</text>
<text class="mi" font-size="17.5" stroke="#000" stroke-width="0.3" x="35.4" y="113.3">3</text>
</g>
<g>
<path d="M8.6 258.9H4V317.3H8.6" fill="none" stroke="#000" stroke-width="1.5"/>
<path d="M49.4 258.9H54V317.3H49.4" fill="none" stroke="#000" stroke-width="1.5"/>
<line x1="9.4" x2="47.4" y1="287.1" y2="287.1" stroke="#000" stroke-width="1.6"/>
<text class="mi" font-size="23.3" stroke="#000" stroke-width="0.3" transform="translate(10.6 275.3) scale(1.16 1)">n</text>
<text class="mi" font-size="23.3" stroke="#000" stroke-width="0.3" transform="translate(23.2 275.3) scale(1.13 1)">W</text>
<text class="mi" font-size="23.3" stroke="#000" stroke-width="0.3" transform="translate(12.9 309.9) scale(1.2 1)">m</text>
<text class="mi" font-size="17.5" stroke="#000" stroke-width="0.3" x="35.4" y="303.4">3</text>
</g>
<g>
<path d="M8.6 440.1H4V498.5H8.6" fill="none" stroke="#000" stroke-width="1.5"/>
<path d="M49.4 440.1H54V498.5H49.4" fill="none" stroke="#000" stroke-width="1.5"/>
<line x1="9.4" x2="47.4" y1="468.3" y2="468.3" stroke="#000" stroke-width="1.6"/>
<text class="mi" font-size="23.3" stroke="#000" stroke-width="0.3" transform="translate(10.6 456.5) scale(1.16 1)">n</text>
<text class="mi" font-size="23.3" stroke="#000" stroke-width="0.3" transform="translate(23.2 456.5) scale(1.13 1)">W</text>
<text class="mi" font-size="23.3" stroke="#000" stroke-width="0.3" transform="translate(12.9 491.1) scale(1.2 1)">m</text>
<text class="mi" font-size="17.5" stroke="#000" stroke-width="0.3" x="35.4" y="484.6">3</text>
</g>
<text class="sm" x="613.2" y="603.6" text-anchor="end">2016-Dec-09 09:03</text>
<text class="xl" x="354.6" y="628.8" text-anchor="middle">Seconds since 09:03:00 UT</text>
</svg></body></html>
